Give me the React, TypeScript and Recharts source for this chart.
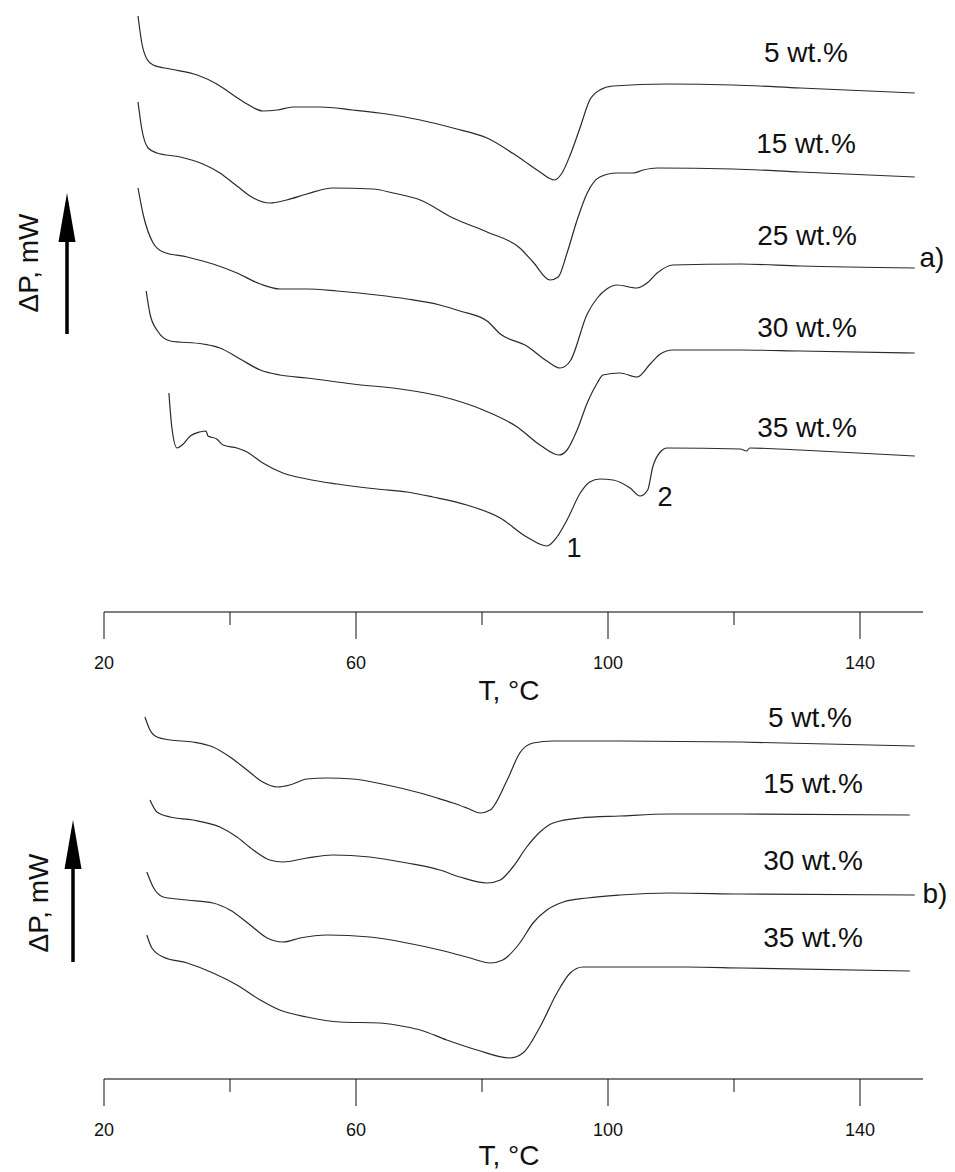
import React from 'react';
import { LineChart, Line, XAxis, YAxis } from 'recharts';

// ---- X axis ticks (T, °C) ----
const TICKS = [20, 40, 60, 80, 100, 120, 140];
const MAJOR_TICKS = [20, 60, 100, 140];

// ---- Panel a) : temperature (°C) and ΔP (arbitrary units, curves shifted) ----
const a5T = [25.4, 26.0, 26.8, 27.8, 30.5, 34.8, 37.9, 40.5, 42.7, 45.2, 47.5, 50.0, 54.3, 59.5, 64.9, 70.2, 75.4, 80.8, 86.0, 89.2, 91.5, 92.7, 94.0, 95.6, 97.1, 98.7, 100.8, 109.4, 119.8, 130.5, 148.7];
const a5P = [60.1, 57.4, 55.8, 55.2, 54.8, 54.2, 53.3, 52.2, 51.3, 50.6, 50.7, 51.0, 51.0, 50.7, 50.3, 49.7, 48.9, 47.9, 45.9, 44.5, 43.7, 44.4, 46.2, 49.0, 51.7, 52.7, 53.1, 53.3, 53.2, 52.9, 52.4];

const a15T = [25.4, 26.0, 27.0, 28.4, 32.1, 35.7, 38.4, 41.1, 43.7, 46.3, 49.0, 52.2, 56.3, 62.7, 65.9, 70.2, 75.4, 80.8, 86.0, 88.1, 90.8, 92.1, 93.5, 95.1, 96.7, 98.7, 101.4, 104.0, 105.6, 107.8, 119.8, 130.5, 148.7];
const a15P = [51.5, 48.8, 46.9, 46.4, 46.0, 45.3, 44.4, 43.1, 41.9, 41.4, 41.7, 42.3, 42.9, 42.8, 42.4, 41.7, 39.9, 38.5, 36.9, 35.5, 33.7, 34.0, 36.4, 39.7, 42.4, 44.0, 44.4, 44.4, 44.7, 44.9, 44.8, 44.5, 44.0];

const a25T = [25.4, 26.2, 27.8, 29.4, 33.2, 37.3, 41.1, 44.8, 47.9, 52.2, 57.0, 63.3, 68.1, 73.3, 76.5, 80.8, 82.9, 87.1, 90.3, 92.4, 94.0, 96.7, 98.3, 99.8, 101.4, 104.6, 106.2, 107.8, 110.3, 121.0, 130.5, 148.7];
const a25P = [42.9, 40.3, 37.4, 36.5, 36.0, 35.3, 34.4, 33.3, 32.8, 32.8, 32.6, 32.2, 31.8, 31.2, 30.6, 29.6, 28.3, 27.1, 25.6, 24.9, 25.6, 30.3, 31.9, 32.8, 33.2, 32.9, 33.4, 34.4, 35.2, 35.3, 35.1, 34.9];

const a30T = [26.7, 27.3, 28.4, 30.5, 35.7, 38.4, 41.6, 44.8, 47.9, 52.2, 59.5, 67.0, 73.3, 80.2, 85.6, 89.2, 92.2, 93.5, 95.1, 96.7, 98.3, 99.2, 101.9, 104.6, 106.7, 108.3, 110.3, 121.0, 130.5, 148.7];
const a30P = [32.6, 30.3, 28.7, 27.6, 27.3, 26.9, 25.8, 24.7, 24.2, 23.9, 23.3, 22.8, 22.1, 20.7, 19.0, 17.2, 16.2, 16.7, 18.7, 21.4, 23.4, 24.2, 24.4, 24.0, 25.3, 26.3, 26.7, 26.7, 26.6, 26.4];

const a35T = [30.3, 30.8, 31.6, 32.4, 33.7, 35.2, 36.2, 36.5, 37.9, 38.9, 41.1, 42.7, 45.2, 48.4, 52.2, 57.0, 63.3, 68.1, 72.2, 77.6, 82.9, 87.1, 90.3, 91.9, 93.5, 95.6, 97.1, 98.7, 100.8, 103.5, 105.1, 106.3, 107.1, 108.3, 109.4, 121.0, 122.0, 122.5, 130.5, 148.7];
const a35P = [22.4, 18.8, 16.9, 17.2, 18.1, 18.5, 18.6, 18.1, 17.8, 17.2, 16.9, 16.5, 15.4, 14.4, 13.8, 13.3, 12.8, 12.5, 12.0, 11.2, 9.9, 8.0, 7.1, 8.0, 9.7, 12.4, 13.5, 13.8, 13.7, 12.9, 12.1, 12.7, 15.0, 16.5, 16.9, 16.8, 16.6, 16.9, 16.7, 16.1];

// ---- Panel b) ----
const b5T = [26.5, 27.3, 28.4, 30.5, 34.1, 37.3, 40.0, 42.7, 45.2, 47.5, 49.5, 52.2, 55.4, 59.5, 64.9, 70.2, 72.9, 75.4, 77.6, 79.7, 81.3, 84.0, 86.0, 88.1, 91.3, 101.9, 121.0, 148.7];
const b5P = [36.2, 34.9, 34.2, 33.9, 33.7, 33.2, 32.2, 30.9, 29.7, 29.2, 29.4, 30.0, 30.1, 30.0, 29.4, 28.6, 28.1, 27.6, 27.1, 26.6, 26.9, 29.9, 32.6, 33.6, 33.8, 33.8, 33.7, 33.3];

const b15T = [27.3, 28.4, 30.5, 34.1, 38.4, 41.1, 43.7, 46.3, 48.4, 52.2, 56.3, 62.2, 68.1, 73.3, 76.5, 80.8, 82.9, 84.9, 87.1, 89.2, 91.3, 95.6, 101.9, 109.8, 121.0, 147.9];
const b15P = [27.9, 26.7, 26.2, 25.9, 25.2, 24.2, 22.9, 21.9, 21.7, 22.1, 22.4, 22.2, 21.6, 20.9, 20.2, 19.6, 19.9, 21.2, 23.2, 24.7, 25.6, 26.1, 26.3, 26.5, 26.5, 26.4];

const b30T = [26.8, 27.8, 29.4, 33.2, 37.3, 40.0, 43.2, 45.9, 48.4, 51.1, 55.4, 62.2, 68.1, 73.3, 78.1, 81.3, 83.3, 86.0, 88.1, 90.3, 92.9, 96.7, 101.9, 109.8, 121.0, 148.7];
const b30P = [20.7, 19.2, 18.2, 17.9, 17.6, 16.9, 15.4, 14.1, 13.7, 14.1, 14.4, 14.2, 13.6, 12.9, 12.1, 11.6, 11.9, 13.6, 15.6, 16.9, 17.7, 18.1, 18.4, 18.6, 18.5, 18.4];

const b35T = [26.8, 27.6, 29.4, 33.2, 37.3, 41.1, 44.8, 47.9, 52.2, 57.5, 63.8, 68.1, 70.2, 74.4, 79.2, 84.4, 86.5, 89.2, 91.9, 94.0, 96.0, 101.9, 112.5, 121.0, 147.9];
const b35P = [14.4, 13.1, 12.2, 11.6, 10.6, 9.4, 7.9, 6.9, 6.2, 5.7, 5.6, 5.2, 4.9, 3.9, 2.9, 2.1, 2.6, 5.2, 8.6, 10.6, 11.2, 11.2, 11.2, 11.1, 10.8];

const zip = (t: number[], p: number[]) => t.map((T, i) => ({ T, v: p[i] }));

const seriesA = [zip(a5T, a5P), zip(a15T, a15P), zip(a25T, a25P), zip(a30T, a30P), zip(a35T, a35P)];
const seriesB = [zip(b5T, b5P), zip(b15T, b15P), zip(b30T, b30P), zip(b35T, b35P)];

const FONT = '"Liberation Sans", Arial, Helvetica, sans-serif';
const LINE_COLOR = '#2a2a2a';

const AxisTick = (props: any) => {
  const { x, y, payload } = props;
  const major = MAJOR_TICKS.includes(payload.value);
  return (
    <g>
      <line x1={x} x2={x} y1={y} y2={y + (major ? 27 : 13)} stroke="#111" strokeWidth={1} />
      {major && (
        <text x={x} y={y + 57} textAnchor="middle" fontSize={18} fontFamily={FONT} fill="#111">
          {payload.value}
        </text>
      )}
    </g>
  );
};

const Panel = ({ series, height, xAxisHeight, yDomain, top }: any) => (
  <div style={{ position: 'absolute', left: 0, top, width: 955, height }}>
    <LineChart width={955} height={height} margin={{ top: 0, right: 32, left: 104, bottom: 0 }}>
      <XAxis
        type="number"
        dataKey="T"
        domain={[20, 150]}
        ticks={TICKS}
        interval={0}
        allowDataOverflow
        height={xAxisHeight}
        tickSize={0}
        tickMargin={0}
        tickLine={false}
        tick={<AxisTick />}
        axisLine={{ stroke: '#555', strokeWidth: 1.6 }}
      />
      <YAxis hide type="number" domain={yDomain} allowDataOverflow />
      {series.map((d: any[], i: number) => (
        <Line
          key={i}
          data={d}
          dataKey="v"
          type="monotone"
          stroke={LINE_COLOR}
          strokeWidth={1.2}
          dot={false}
          activeDot={false}
          isAnimationActive={false}
        />
      ))}
    </LineChart>
  </div>
);

const labelsA = [
  { t: '5 wt.%', x: 806, y: 52 },
  { t: '15 wt.%', x: 806, y: 143 },
  { t: '25 wt.%', x: 807, y: 235 },
  { t: '30 wt.%', x: 807, y: 327 },
  { t: '35 wt.%', x: 807, y: 427 },
];
const labelsB = [
  { t: '5 wt.%', x: 810, y: 717 },
  { t: '15 wt.%', x: 813, y: 783 },
  { t: '30 wt.%', x: 813, y: 860 },
  { t: '35 wt.%', x: 813, y: 937 },
];

const Arrow = ({ x, tip, bottom }: any) => (
  <g>
    <line x1={x} x2={x} y1={bottom} y2={tip + 40} stroke="#000" strokeWidth={3.5} />
    <polygon points={`${x - 8.5},${tip + 49} ${x + 8.5},${tip + 49} ${x},${tip}`} fill="#000" />
  </g>
);

export default function App() {
  return (
    <div style={{ position: 'absolute', left: 0, top: 0, width: 955, height: 1172, background: '#fff', overflow: 'hidden' }}>
      {/* panel a): plot from y=0 to axis at y=612 */}
      <Panel series={seriesA} top={0} height={720} xAxisHeight={108} yDomain={[0.5, 61.7]} />
      {/* panel b): plot from y=700 to axis at y=1079 */}
      <Panel series={seriesB} top={700} height={472} xAxisHeight={93} yDomain={[0, 37.9]} />
      <svg
        width={955}
        height={1172}
        style={{ position: 'absolute', left: 0, top: 0, pointerEvents: 'none' }}
        fontFamily={FONT}
      >
        {labelsA.concat(labelsB).map((l, i) => (
          <text key={i} x={l.x} y={l.y + 10} textAnchor="middle" fontSize={28} fill="#111">
            {l.t}
          </text>
        ))}
        <text x={932} y={267} textAnchor="middle" fontSize={28} fill="#111">a)</text>
        <text x={935} y={903} textAnchor="middle" fontSize={28} fill="#111">b)</text>
        <text x={574} y={557} textAnchor="middle" fontSize={27} fill="#111">1</text>
        <text x={665} y={506} textAnchor="middle" fontSize={27} fill="#111">2</text>
        <text x={509} y={700} textAnchor="middle" fontSize={28} fill="#111">T, °C</text>
        <text x={509} y={1165} textAnchor="middle" fontSize={28} fill="#111">T, °C</text>
        <text transform="translate(38,263) rotate(-90)" textAnchor="middle" fontSize={28} fill="#111">ΔP, mW</text>
        <text transform="translate(48,903) rotate(-90)" textAnchor="middle" fontSize={28} fill="#111">ΔP, mW</text>
        <Arrow x={67} tip={193} bottom={334} />
        <Arrow x={73} tip={820} bottom={962} />
      </svg>
    </div>
  );
}
